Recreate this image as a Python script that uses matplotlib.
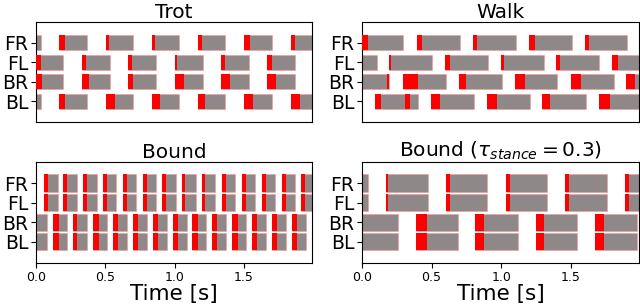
import matplotlib
matplotlib.use('Agg')
import matplotlib.pyplot as plt

# 腿的顺序（从上到下）
legs = ['FR', 'FL', 'BR', 'BL']

# ---- Trot ----  支撑相 (触地, 离地) 与红色(冲击)段, 单位 s
trot_FR = [(0.00, 0.034), (0.164, 0.366), (0.503, 0.697), (0.835, 1.032), (1.169, 1.366), (1.503, 1.700), (1.835, 1.994)]
trot_FR_red = [(0.164, 0.209), (0.503, 0.529), (0.835, 0.861), (1.169, 1.198), (1.503, 1.541), (1.835, 1.869)]
trot_FL = [(0.00, 0.197), (0.332, 0.534), (0.666, 0.866), (1.000, 1.203), (1.335, 1.534), (1.667, 1.869)]
trot_FL_red = [(0.00, 0.034), (0.332, 0.361), (0.666, 0.695), (1.000, 1.020), (1.335, 1.366), (1.667, 1.700)]
trot_BR = [(0.00, 0.197), (0.332, 0.534), (0.666, 0.866), (1.000, 1.203), (1.335, 1.534), (1.667, 1.869)]
trot_BR_red = [(0.00, 0.041), (0.332, 0.382), (0.666, 0.702), (1.000, 1.070), (1.335, 1.400), (1.667, 1.727)]
trot_BL = [(0.00, 0.034), (0.164, 0.366), (0.503, 0.697), (0.835, 1.032), (1.169, 1.366), (1.503, 1.700), (1.835, 1.994)]
trot_BL_red = [(0.164, 0.209), (0.503, 0.570), (0.835, 0.895), (1.169, 1.219), (1.503, 1.561), (1.835, 1.900)]

# ---- Walk ----
walk_FR = [(0.00, 0.298), (0.394, 0.702), (0.796, 1.104), (1.198, 1.506), (1.599, 1.905)]
walk_FR_red = [(0.00, 0.041), (0.394, 0.430), (0.796, 0.827), (1.198, 1.243), (1.599, 1.628)]
walk_FL = [(0.00, 0.106), (0.195, 0.503), (0.596, 0.904), (0.998, 1.306), (1.397, 1.705), (1.799, 2.0)]
walk_FL_red = [(0.195, 0.212), (0.596, 0.635), (0.998, 1.020), (1.397, 1.421), (1.799, 1.837)]
walk_BR = [(0.00, 0.195), (0.293, 0.606), (0.695, 1.003), (1.097, 1.404), (1.501, 1.809), (1.897, 2.0)]
walk_BR_red = [(0.180, 0.195), (0.293, 0.399), (0.695, 0.748), (1.097, 1.171), (1.501, 1.573), (1.897, 1.958)]
walk_BL = [(0.094, 0.402), (0.498, 0.803), (0.895, 1.207), (1.296, 1.609), (1.700, 2.0)]
walk_BL_red = [(0.094, 0.137), (0.310, 0.346), (0.498, 0.558), (0.895, 0.972), (1.296, 1.349), (1.700, 1.780)]

# ---- Bound ----
bound_F = [(0.060, 0.156), (0.197, 0.293), (0.342, 0.438), (0.483, 0.579), (0.625, 0.721), (0.770, 0.866),
           (0.911, 1.007), (1.056, 1.152), (1.198, 1.294), (1.342, 1.438), (1.484, 1.580), (1.626, 1.722),
           (1.770, 1.866), (1.914, 2.0)]
bound_F_red = [(0.060, 0.084), (0.197, 0.221), (0.342, 0.366), (0.483, 0.514), (0.625, 0.654), (0.770, 0.799),
               (0.911, 0.935), (1.056, 1.075), (1.198, 1.219), (1.342, 1.371), (1.484, 1.515), (1.626, 1.657),
               (1.770, 1.801), (1.914, 1.940)]
bound_B = [(0.00, 0.077), (0.125, 0.226), (0.269, 0.370), (0.411, 0.512), (0.556, 0.657), (0.697, 0.798),
           (0.842, 0.943), (0.986, 1.087), (1.128, 1.229), (1.270, 1.371), (1.414, 1.515), (1.556, 1.657),
           (1.700, 1.801), (1.842, 1.943)]
bound_B_red = [(0.125, 0.168), (0.269, 0.298), (0.411, 0.452), (0.556, 0.594), (0.697, 0.738), (0.842, 0.883),
               (0.986, 1.027), (1.128, 1.171), (1.270, 1.308), (1.414, 1.455), (1.556, 1.592), (1.700, 1.736),
               (1.842, 1.885)]

# ---- Bound (tau_stance = 0.3) ----
bound3_F = [(0.00, 0.041), (0.171, 0.471), (0.604, 0.900), (1.032, 1.332), (1.460, 1.760), (1.893, 2.0)]
bound3_F_red = [(0.171, 0.190), (0.604, 0.635), (1.032, 1.063), (1.460, 1.489), (1.893, 1.917)]
bound3_B = [(0.00, 0.262), (0.390, 0.690), (0.813, 1.121), (1.248, 1.544), (1.674, 1.977)]
bound3_B_red = [(0.390, 0.467), (0.813, 0.880), (1.248, 1.308), (1.674, 1.741)]

titles = ['Trot', 'Walk', 'Bound', r'Bound ($\tau_{stance} = 0.3$)']
gaits = [
    [(trot_FR, trot_FR_red), (trot_FL, trot_FL_red), (trot_BR, trot_BR_red), (trot_BL, trot_BL_red)],
    [(walk_FR, walk_FR_red), (walk_FL, walk_FL_red), (walk_BR, walk_BR_red), (walk_BL, walk_BL_red)],
    [(bound_F, bound_F_red), (bound_F, bound_F_red), (bound_B, bound_B_red), (bound_B, bound_B_red)],
    [(bound3_F, bound3_F_red), (bound3_F, bound3_F_red), (bound3_B, bound3_B_red), (bound3_B, bound3_B_red)],
]

fig = plt.figure(figsize=(6.4, 3.05), dpi=100)
# 手动放置四个子图
positions = [
    [0.05625, 0.600, 0.4313, 0.328],
    [0.5656, 0.600, 0.4328, 0.328],
    [0.05625, 0.138, 0.4313, 0.331],
    [0.5656, 0.138, 0.4328, 0.331],
]

for k, (pos, title, gait) in enumerate(zip(positions, titles, gaits)):
    ax = fig.add_axes(pos)
    h = 0.78 if k < 2 else 0.88
    for i, (stance, red) in enumerate(gait):
        y = len(legs) - 1 - i
        ax.broken_barh([(s, e - s) for s, e in stance], (y - h / 2, h),
                       facecolors='#8e8888', edgecolors=(1.0, 0.55, 0.55, 0.45), linewidth=0.8, zorder=2)
        ax.broken_barh([(s, e - s) for s, e in red], (y - h / 2, h),
                       facecolors='#ff0000', edgecolors='none', zorder=3)
    ax.set_xlim(0, 1.99)
    ax.set_ylim(-1.08, 4.08)
    ax.set_yticks(range(len(legs)))
    ax.set_yticklabels(legs[::-1], fontsize=13.5)
    ax.tick_params(axis='y', pad=2, length=3.5)
    ax.set_title(title, fontsize=14.5, pad=3)
    if k < 2:
        ax.tick_params(axis='x', bottom=False, labelbottom=False)
    else:
        ax.set_xticks([0.0, 0.5, 1.0, 1.5])
        ax.set_xticklabels(['0.0', '0.5', '1.0', '1.5'], fontsize=9)
        ax.tick_params(axis='x', pad=2, length=3.5)
        ax.set_xlabel('Time [s]', fontsize=15.5, labelpad=0)

plt.savefig('out.png', dpi=100)
